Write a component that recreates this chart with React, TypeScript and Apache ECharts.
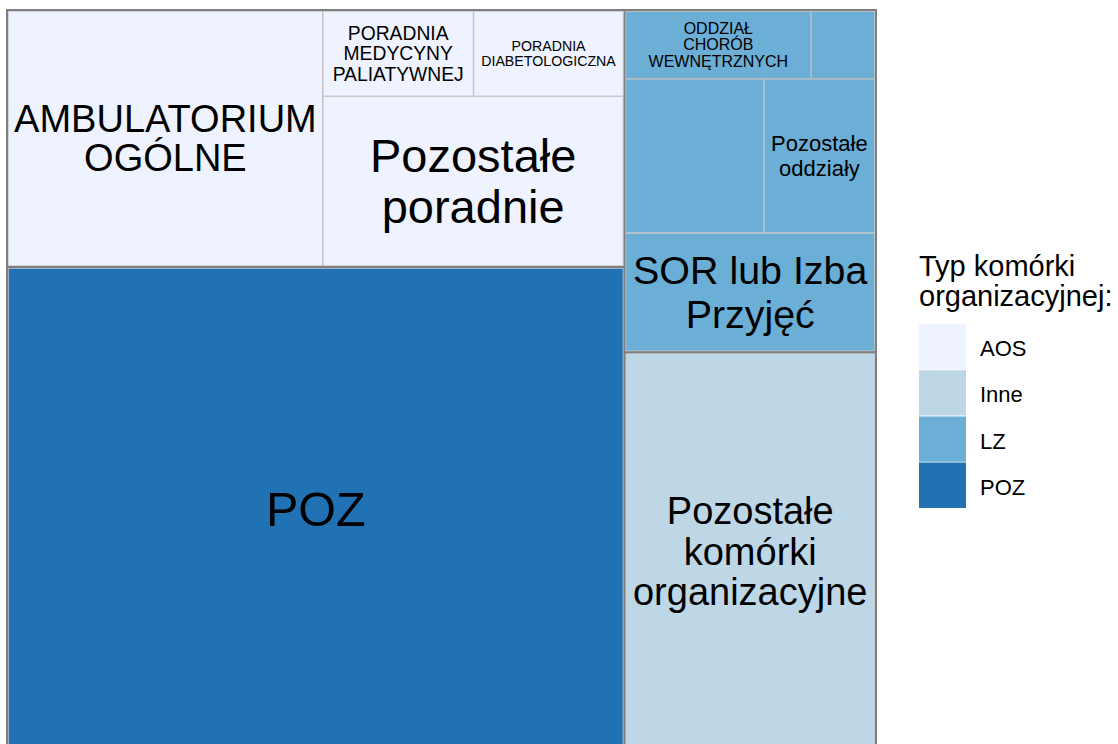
import { useEffect, useRef } from "react";
import * as echarts from "echarts";

// ---- data (shares of the whole, %) ----
const typeNames = ["AOS", "Inne", "LZ", "POZ"];
const typeColors = ["#eff3ff", "#bdd7e7", "#6baed6", "#2171b5"];

const aosNames = [
  "AMBULATORIUM OGÓLNE",
  "PORADNIA MEDYCYNY PALIATYWNEJ",
  "PORADNIA DIABETOLOGICZNA",
  "Pozostałe poradnie",
];
const aosLabels = [
  "AMBULATORIUM\nOGÓLNE",
  "PORADNIA\nMEDYCYNY\nPALIATYWNEJ",
  "PORADNIA\nDIABETOLOGICZNA",
  "Pozostałe\nporadnie",
];
const aosValues = [12.61, 2.02, 2.01, 8.01];

const lzNames = ["ODDZIAŁ CHORÓB WEWNĘTRZNYCH", "", "", "Pozostałe oddziały", "SOR lub Izba Przyjęć"];
const lzLabels = ["ODDZIAŁ\nCHORÓB\nWEWNĘTRZNYCH", "", "", "Pozostałe\noddziały", "SOR lub Izba\nPrzyjęć"];
const lzValues = [1.98, 0.68, 3.36, 2.7, 4.65];

const pozNames = ["POZ"];
const pozLabels = ["POZ"];
const pozValues = [46.41];

const inneNames = ["Pozostałe komórki organizacyjne"];
const inneLabels = ["Pozostałe\nkomórki\norganizacyjne"];
const inneValues = [15.58];

const legendTitle = "Typ komórki\norganizacyjnej:";

// ---- styles ----
const FONT = "'Liberation Sans', Arial, Helvetica, sans-serif";
const GROUP_BORDER = "#7f7f7f";
const LEAF_BORDER = "#c8c8c8";
const aosFont: [number, number][] = [[38, 39], [19.3, 20.5], [14.2, 14.5], [47, 50.5]];
const lzFont: [number, number][] = [[16, 16.5], [0, 0], [0, 0], [22, 24.5], [39.4, 44.5]];
const pozFont: [number, number][] = [[48.5, 50]];
const inneFont: [number, number][] = [[38, 40.5]];

function leaf(name: string, label: string, value: number, color: string, font: [number, number]) {
  return {
    name,
    value,
    itemStyle: { color, borderColor: LEAF_BORDER, borderWidth: 0.75, gapWidth: 0 },
    label: label
      ? { show: true, formatter: label, fontSize: font[0], lineHeight: font[1] }
      : { show: false },
  };
}

function wrap(children: any[]) {
  // invisible grouping node, only used to obtain the reference arrangement
  return {
    name: "",
    children,
    itemStyle: { borderWidth: 0, gapWidth: 0, borderColor: LEAF_BORDER },
    label: { show: false },
    upperLabel: { show: false },
  };
}

function group(idx: number, children: any[]) {
  return {
    name: typeNames[idx],
    itemStyle: { color: typeColors[idx], borderColor: GROUP_BORDER, borderWidth: 1, gapWidth: 0 },
    label: { show: false },
    upperLabel: { show: false },
    children,
  };
}

function buildData() {
  const aosLeaves = aosNames.map((n, i) => leaf(n, aosLabels[i], aosValues[i], typeColors[0], aosFont[i]));
  const lzLeaves = lzNames.map((n, i) => leaf(n, lzLabels[i], lzValues[i], typeColors[2], lzFont[i]));
  const pozLeaves = pozNames.map((n, i) => leaf(n, pozLabels[i], pozValues[i], typeColors[3], pozFont[i]));
  const inneLeaves = inneNames.map((n, i) => leaf(n, inneLabels[i], inneValues[i], typeColors[1], inneFont[i]));
  return [
    group(0, [aosLeaves[0], wrap([wrap([aosLeaves[1], aosLeaves[2]]), aosLeaves[3]])]),
    group(3, pozLeaves),
    group(2, lzLeaves),
    group(1, inneLeaves),
  ];
}

export default function App() {
  const ref = useRef<HTMLDivElement>(null);
  useEffect(() => {
    if (!ref.current) return;
    const chart = echarts.init(ref.current, undefined, { renderer: "svg" });
    const swY0 = 324;
    const swH = 46.2;
    const graphic: any[] = [
      {
        type: "text",
        x: 919,
        y: 281,
        style: {
          text: legendTitle,
          fontSize: 29,
          lineHeight: 30,
          fontFamily: FONT,
          fill: "#000",
          align: "left",
          verticalAlign: "middle",
        },
      },
    ];
    typeNames.forEach((t, i) => {
      graphic.push({
        type: "rect",
        shape: { x: 919, y: swY0 + i * swH, width: 47, height: swH - 0.8 },
        style: { fill: typeColors[i] },
      });
      graphic.push({
        type: "text",
        x: 980,
        y: swY0 + i * swH + swH / 2 + 1.5,
        style: {
          text: t,
          fontSize: 22,
          fontFamily: FONT,
          fill: "#000",
          align: "left",
          verticalAlign: "middle",
        },
      });
    });
    chart.setOption({
      animation: false,
      backgroundColor: "#ffffff",
      graphic,
      series: [
        {
          type: "treemap",
          left: 6,
          top: 9,
          width: 871,
          height: 743,
          roam: false,
          nodeClick: false,
          breadcrumb: { show: false },
          sort: false,
          squareRatio: 1.3,
          visibleMin: 0,
          label: {
            show: true,
            position: "inside",
            color: "#000",
            fontFamily: FONT,
            overflow: "none",
            align: "center",
            verticalAlign: "middle",
          },
          upperLabel: { show: false },
          emphasis: { disabled: true },
          levels: [{ itemStyle: { borderWidth: 1, borderColor: GROUP_BORDER, gapWidth: 0 } }],
          data: buildData(),
        },
      ],
    });
    return () => chart.dispose();
  }, []);
  return (
    <div
      ref={ref}
      style={{ position: "fixed", left: 0, top: 0, width: 1118, height: 744, background: "#fff" }}
    />
  );
}
